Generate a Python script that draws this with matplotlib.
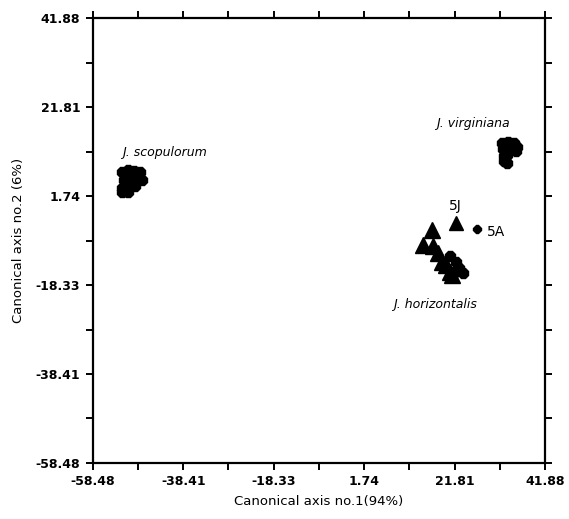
import matplotlib
matplotlib.use("Agg")
import matplotlib.pyplot as plt
import numpy as np

# axis limits / tick values (canonical axes)
lo, hi = -58.48, 41.88
tick_labels = ["-58.48", "-38.41", "-18.33", "1.74", "21.81", "41.88"]

# J. scopulorum group centroids
scop_x = [-52.04, -50.71, -49.38, -48.04, -51.60, -50.04, -48.49, -47.60, -52.04, -50.71, -49.15, -50.71, -52.04]
scop_y = [7.15, 7.60, 7.38, 7.15, 5.35, 5.80, 5.80, 5.35, 3.54, 3.99, 3.99, 2.64, 2.64]

# J. virginiana
virg_x = [32.33, 33.66, 34.99, 35.66, 32.55, 34.11, 35.44, 32.78, 33.44, 32.78, 33.44]
virg_y = [13.69, 13.92, 13.69, 12.79, 12.34, 12.34, 11.89, 10.76, 10.98, 9.63, 9.18]

# J. horizontalis (triangles)
horz_x = [16.79, 14.79, 17.01, 18.12, 19.01, 19.90, 20.79, 21.23]
horz_y = [-5.93, -9.31, -9.54, -11.12, -13.15, -13.82, -15.40, -16.08]

# other points inside horizontalis cluster
hblob_x = [20.79, 22.12, 22.79, 23.67, 21.90]
hblob_y = [-11.79, -13.15, -14.50, -15.63, -15.40]

# labelled individuals
p5j = (22.12, -4.35)
p5a = (26.78, -5.70)

fig = plt.figure(figsize=(5.69, 5.19), dpi=100)
ax = fig.add_axes([0.163, 0.108, 0.795, 0.857])

ax.plot(scop_x, scop_y, ls="none", marker="8", ms=8, color="black")
ax.plot(virg_x, virg_y, ls="none", marker="8", ms=8, color="black")
ax.plot(hblob_x, hblob_y, ls="none", marker="8", ms=7.5, color="black")
ax.plot(horz_x, horz_y, ls="none", marker="^", ms=11.5, color="black")
ax.plot([p5j[0]], [p5j[1]], ls="none", marker="^", ms=10.5, color="black")
ax.plot([p5a[0]], [p5a[1]], ls="none", marker="8", ms=5.5, color="black")

ax.text(-52.04, 11.66, "J. scopulorum", style="italic", fontsize=9, va="center")
ax.text(17.67, 18.2, "J. virginiana", style="italic", fontsize=9, va="center")
ax.text(8.12, -22.84, "J. horizontalis", style="italic", fontsize=9, va="center")
ax.text(21.88, -0.51, "5J", fontsize=10, ha="center", va="center")
ax.text(28.99, -6.38, "5A", fontsize=10, va="center")

ax.set_xlim(lo, hi)
ax.set_ylim(lo, hi)
ticks = np.linspace(lo, hi, 11)
ax.set_xticks(ticks)
ax.set_yticks(ticks)
ax.set_xticklabels([tick_labels[i // 2] if i % 2 == 0 else "" for i in range(11)])
ax.set_yticklabels([tick_labels[i // 2] if i % 2 == 0 else "" for i in range(11)])
ax.tick_params(direction="out", length=5, width=1.4, top=True, right=True,
               labelsize=9, pad=4)
for lab in ax.get_xticklabels() + ax.get_yticklabels():
    lab.set_fontweight("bold")
for s in ax.spines.values():
    s.set_linewidth(1.6)

ax.set_xlabel("Canonical axis no.1(94%)", fontsize=9.5, labelpad=5)
ax.set_ylabel("Canonical axis no.2 (6%)", fontsize=9.5, labelpad=8)

fig.savefig("out.png", dpi=100)
